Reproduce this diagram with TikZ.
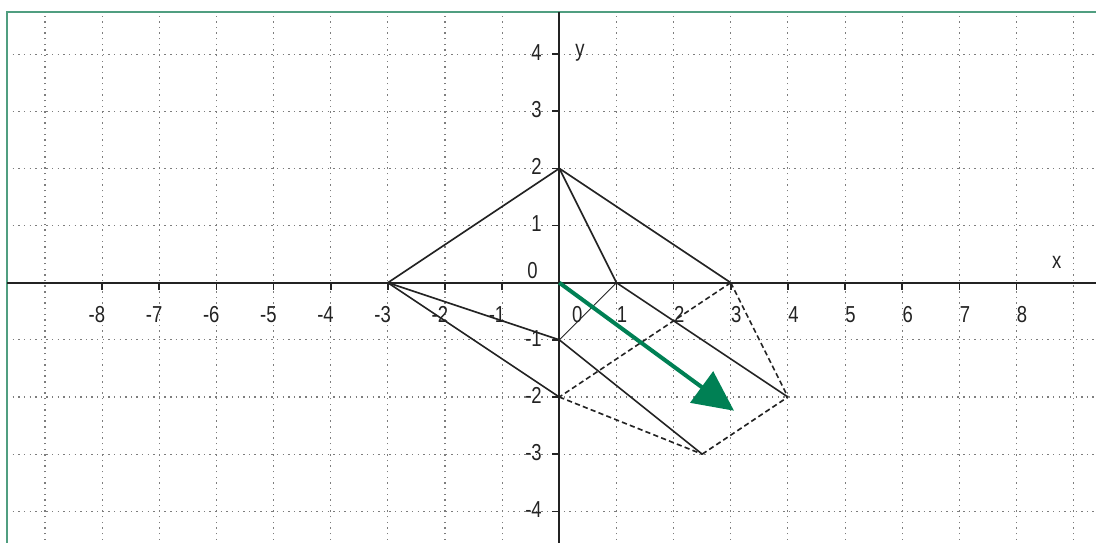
\documentclass[tikz,border=0pt]{standalone}
\usepackage{fontspec}
\setmainfont{Liberation Sans}[FakeStretch=0.8]
\usetikzlibrary{arrows.meta}
\definecolor{frameg}{RGB}{80,158,128}
\definecolor{arrowg}{RGB}{0,128,84}
\definecolor{gridc}{RGB}{125,125,125}
\definecolor{axisc}{RGB}{35,35,35}
\begin{document}
\begin{tikzpicture}[x=1cm,y=1cm,
 gridline/.style={gridc, line width=0.55pt, dash pattern=on 0.7pt off 2.1pt},
 axisline/.style={axisc, line width=0.9pt},
 tickmark/.style={axisc, line width=0.8pt},
 figline/.style={axisc, line width=0.8pt, line cap=round},
 thinline/.style={axisc, line width=0.45pt},
 dashline/.style={axisc, line width=0.8pt, dash pattern=on 2.6pt off 1.6pt},
 lbl/.style={font=\fontsize{11.5}{12}\selectfont, text=axisc, inner sep=0pt},
 vec/.style={arrowg, line width=2pt, -{Triangle[length=20pt,width=19pt]}},
]
\clip (-9.787,-4.537) rectangle (9.391,4.947);
% grid
\foreach \i in {-9,...,9} \draw[gridline] (\i,-4.6) -- (\i,4.737);
\foreach \j in {-4,...,4} \draw[gridline] (-9.664,\j) -- (9.45,\j);
% frame
\draw[frameg, line width=1.1pt] (-9.664,-5) rectangle (9.8,4.737);
% axes
\draw[axisline] (-9.664,0) -- (9.45,0);
\draw[axisline] (0,-4.6) -- (0,4.737);
\foreach \i in {-8,...,-1,1,2,...,8} \draw[tickmark] (\i,0) -- (\i,-0.13);
\foreach \j in {-4,...,-1,1,2,3,4} \draw[tickmark] (0,\j) -- (-0.13,\j);
% figure points
\coordinate (A) at (-3,0);
\coordinate (B) at (0,2);
\coordinate (C) at (1,0);
\coordinate (D) at (3,0);
\coordinate (E) at (0,-1);
\coordinate (F) at (0,-2);
\coordinate (G) at (4,-2);
\coordinate (H) at (2.5,-3);
\coordinate (O) at (0,0);
\coordinate (T) at (3.057,-2.240);
% solid lines
\draw[figline] (A) -- (B);
\draw[figline] (B) -- (D);
\draw[figline] (B) -- (C);
\draw[figline] (A) -- (E);
\draw[figline] (A) -- (F);
\draw[figline] (E) -- (H);
\draw[figline] (C) -- (G);
\draw[thinline] (C) -- (E);
% dashed lines
\draw[dashline] (D) -- (F);
\draw[dashline] (D) -- (G);
\draw[dashline] (F) -- (H);
\draw[dashline] (H) -- (G);
% labels
\foreach \i in {-8,...,-1} \node[lbl, anchor=base east] (xl\i) at (\i+0.06,-0.69) {\i};
\foreach \i in {1,...,8} \node[lbl, anchor=base west] (xl\i) at (\i,-0.69) {\i};
\node[lbl, anchor=base west] (xl0) at (0.217,-0.69) {0};
\foreach \j in {-4,...,-1,1,2,3,4} \node[lbl, anchor=base east] (yl\j) at (-0.30,\j-0.11) {\j};
\node[lbl, anchor=base east] (yl0) at (-0.373,0.082) {0};
\node[lbl, anchor=base west] (ylab) at (0.275,3.955) {y};
\node[lbl, anchor=base west] (xlab) at (8.616,0.252) {x};
% vector
\draw[vec] (O) -- (T);
\end{tikzpicture}
\end{document}
